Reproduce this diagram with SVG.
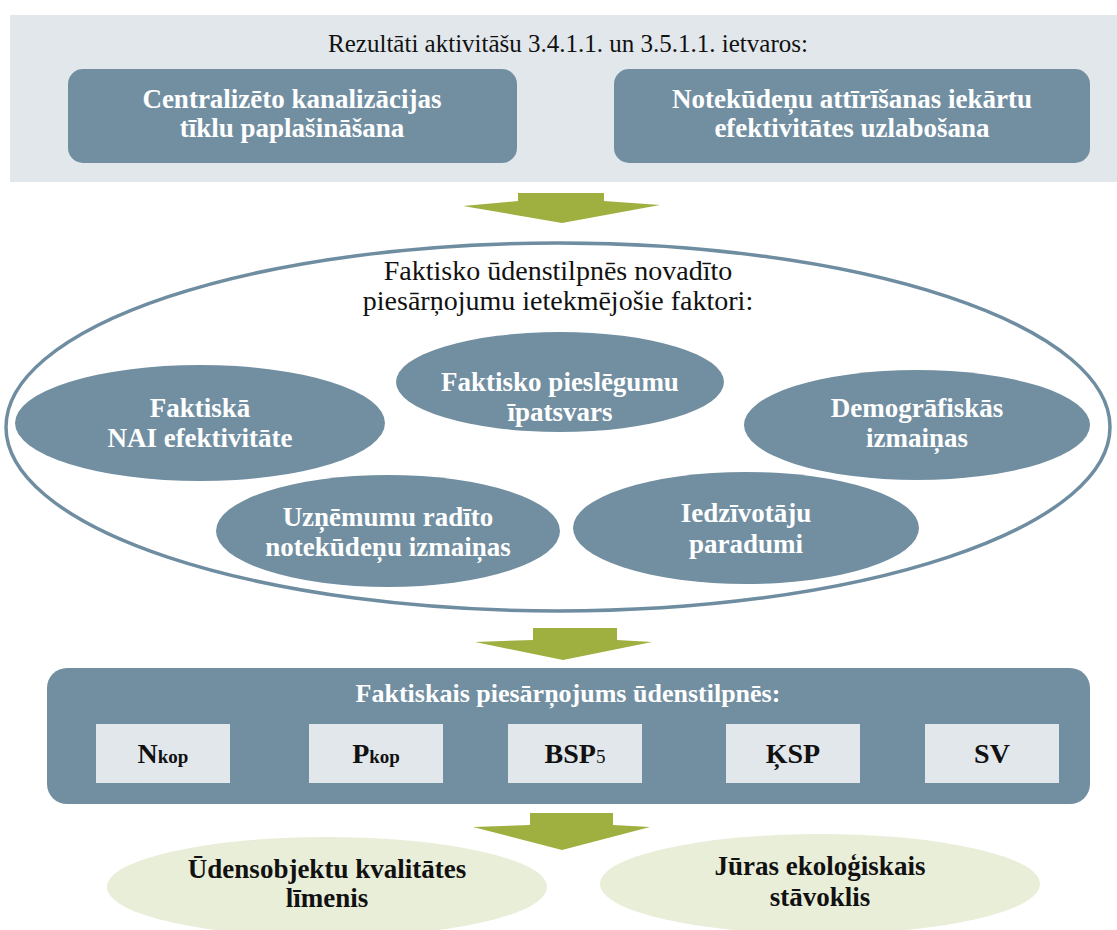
<svg xmlns="http://www.w3.org/2000/svg" width="1117" height="930" viewBox="0 0 1117 930">
<style>
.box{fill:#728FA2}
.lt{fill:#E2E7EB}
.ov{fill:#728FA2}
.gr{fill:#E9EED9}
.arr{fill:#9FB040}
.t{font-family:"Liberation Serif","Times New Roman","DejaVu Serif",serif;text-anchor:middle}
.w{fill:#ffffff;font-weight:bold;font-size:27px}
.w2{fill:#ffffff;font-weight:bold;font-size:26px}
.k{fill:#111111;font-size:25px}
.k2{fill:#111111;font-size:28px}
.kb{fill:#111111;font-weight:bold;font-size:28px}
.kb2{fill:#111111;font-weight:bold;font-size:27px}
.sub{font-size:19px}
</style>
<rect width="1117" height="930" fill="#ffffff"/>
<g id="top-panel">
<rect x="10" y="15" width="1107" height="167" class="lt"/>
<text x="568" y="52" class="t k">Rezultāti aktivitāšu 3.4.1.1. un 3.5.1.1. ietvaros:</text>
</g>
<g id="box-left">
<rect x="68" y="69" width="449" height="94" rx="15" class="box"/>
<text x="292" y="108" class="t w">Centralizēto kanalizācijas</text>
<text x="292" y="137" class="t w">tīklu paplašināšana</text>
</g>
<g id="box-right">
<rect x="614" y="69" width="476" height="94" rx="15" class="box"/>
<text x="852" y="108" class="t w">Notekūdeņu attīrīšanas iekārtu</text>
<text x="852" y="137" class="t w">efektivitātes uzlabošana</text>
</g>
<g id="connectors">
<polygon class="arr" points="518,193 604,193 604,201 660,205 562,223 463,206 518,201"/>
<polygon class="arr" points="533,628 617,628 617,640 652,642 563,660 475,642 533,640"/>
<polygon class="arr" points="530,813 613,813 613,825 650,827 562,850 473,827 530,825"/>
</g>
<g id="factors">
<ellipse cx="558" cy="427" rx="552" ry="184" fill="none" stroke="#6F8DA1" stroke-width="3.5"/>
<text x="558" y="280" class="t k2">Faktisko ūdenstilpnēs novadīto</text>
<text x="558" y="310" class="t k2">piesārņojumu ietekmējošie faktori:</text>
</g>
<g id="f1">
<ellipse cx="200" cy="423" rx="185" ry="58" class="ov"/>
<text x="200" y="417" class="t w">Faktiskā</text>
<text x="200" y="447" class="t w">NAI efektivitāte</text>
</g>
<g id="f2">
<ellipse cx="560" cy="382" rx="164" ry="50" class="ov"/>
<text x="560" y="391" class="t w">Faktisko pieslēgumu</text>
<text x="560" y="421" class="t w">īpatsvars</text>
</g>
<g id="f3">
<ellipse cx="917" cy="425" rx="173" ry="55" class="ov"/>
<text x="917" y="417" class="t w">Demogrāfiskās</text>
<text x="917" y="447" class="t w">izmaiņas</text>
</g>
<g id="f4">
<ellipse cx="388" cy="531" rx="172" ry="56" class="ov"/>
<text x="388" y="526" class="t w">Uzņēmumu radīto</text>
<text x="388" y="556" class="t w">notekūdeņu izmaiņas</text>
</g>
<g id="f5">
<ellipse cx="746" cy="528" rx="173" ry="56" class="ov"/>
<text x="746" y="522" class="t w">Iedzīvotāju</text>
<text x="746" y="553" class="t w">paradumi</text>
</g>
<g id="pollution">
<rect x="47" y="668" width="1043" height="136" rx="20" class="box"/>
<text x="568" y="702" class="t w2">Faktiskais piesārņojums ūdenstilpnēs:</text>
</g>
<g id="p-n">
<rect x="96" y="724" width="134" height="59" class="lt"/>
<text x="163" y="763" class="t kb">N<tspan class="sub">kop</tspan></text>
</g>
<g id="p-p">
<rect x="309" y="724" width="134" height="59" class="lt"/>
<text x="376" y="763" class="t kb">P<tspan class="sub">kop</tspan></text>
</g>
<g id="p-bsp">
<rect x="508" y="724" width="134" height="59" class="lt"/>
<text x="575" y="763" class="t kb">BSP<tspan class="sub" font-weight="normal">5</tspan></text>
</g>
<g id="p-ksp">
<rect x="726" y="724" width="134" height="59" class="lt"/>
<text x="793" y="763" class="t kb">ĶSP</text>
</g>
<g id="p-sv">
<rect x="925" y="724" width="134" height="59" class="lt"/>
<text x="992" y="763" class="t kb">SV</text>
</g>
<g id="water-quality">
<ellipse cx="327" cy="887" rx="220" ry="50" class="gr"/>
<text x="327" y="878" class="t kb2">Ūdensobjektu kvalitātes</text>
<text x="327" y="907" class="t kb2">līmenis</text>
</g>
<g id="sea-state">
<ellipse cx="820" cy="884" rx="220" ry="50" class="gr"/>
<text x="820" y="875" class="t kb2">Jūras ekoloģiskais</text>
<text x="820" y="906" class="t kb2">stāvoklis</text>
</g>
</svg>
